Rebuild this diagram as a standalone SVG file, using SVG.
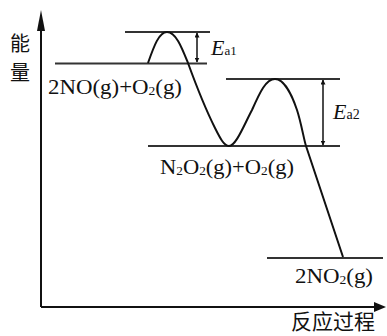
<svg xmlns="http://www.w3.org/2000/svg" width="387" height="336" viewBox="0 0 387 336">
<style>
.axis{stroke:#111;stroke-width:2;fill:none}
.lvl{stroke:#333;stroke-width:2;fill:none}
.curve{stroke:#111;stroke-width:2;fill:none}
.ea{stroke:#111;stroke-width:1.5;fill:none}
.lab{font-family:"Liberation Serif",serif;font-size:22px;fill:#111}
.sub{font-size:13px}
.cjk{font-family:"Noto Sans CJK SC",sans-serif;fill:#111}
.it{font-style:italic}
</style>
<defs>
<marker id="ah" viewBox="0 0 10 10" refX="9" refY="5" markerWidth="5" markerHeight="5" orient="auto-start-reverse" markerUnits="userSpaceOnUse">
<path d="M0,0 L10,5 L0,10 Z" fill="#111"/>
</marker>
</defs>
<g id="axes">
<line class="axis" x1="41" y1="307" x2="41" y2="28"/>
<path d="M41,10 L45,31 L37,31 Z" fill="#111"/>
<line class="axis" x1="41" y1="307" x2="376" y2="307"/>
<path d="M386,307 L374,302 L374,312 Z" fill="#111"/>
<text class="cjk" x="10" y="51" font-size="20">能</text>
<text class="cjk" x="10" y="80" font-size="20">量</text>
<text class="cjk" x="291" y="329" font-size="21">反应过程</text>
</g>
<g id="reactant">
<line class="lvl" x1="55" y1="63.5" x2="207" y2="63.5"/>
<text class="lab" x="48" y="94" textLength="134" lengthAdjust="spacingAndGlyphs">2NO(g)+O<tspan class="sub" dy="1">2</tspan><tspan dy="-1">(g)</tspan></text>
</g>
<g id="ts1">
<line class="lvl" x1="125" y1="32" x2="210" y2="32"/>
</g>
<g id="intermediate">
<line class="lvl" x1="148" y1="146" x2="340" y2="146"/>
<text class="lab" x="160" y="174" textLength="134" lengthAdjust="spacingAndGlyphs">N<tspan class="sub" dy="1">2</tspan><tspan dy="-1">O</tspan><tspan class="sub" dy="1">2</tspan><tspan dy="-1">(g)+O</tspan><tspan class="sub" dy="1">2</tspan><tspan dy="-1">(g)</tspan></text>
</g>
<g id="ts2">
<line class="lvl" x1="226" y1="79" x2="340" y2="79"/>
</g>
<g id="product">
<line class="lvl" x1="267" y1="258" x2="383" y2="258"/>
<text class="lab" x="295" y="283" textLength="78" lengthAdjust="spacingAndGlyphs">2NO<tspan class="sub" dy="1">2</tspan><tspan dy="-1">(g)</tspan></text>
</g>
<g id="ea1">
<line class="ea" x1="197" y1="33" x2="197" y2="62" marker-start="url(#ah)" marker-end="url(#ah)"/>
<text class="lab" x="211" y="55" font-size="19"><tspan class="it">E</tspan><tspan font-size="13">a1</tspan></text>
</g>
<g id="ea2">
<line class="ea" x1="323" y1="80" x2="323" y2="145" marker-start="url(#ah)" marker-end="url(#ah)"/>
<text class="lab" x="333" y="119"><tspan class="it">E</tspan><tspan font-size="14">a2</tspan></text>
</g>
<g id="connectors">
<path class="curve" d="M148,63 C154,46 159,32 167,32 C176,32 182,48 188,63 C196,85 205,108 215,128 C220,138 224,146 229,146 C236,146 244,125 252,110 C260,92 266,79 275,79 C284,79 292,95 297,110 C301,122 304,140 306,146 L343,257"/>
</g>
</svg>
